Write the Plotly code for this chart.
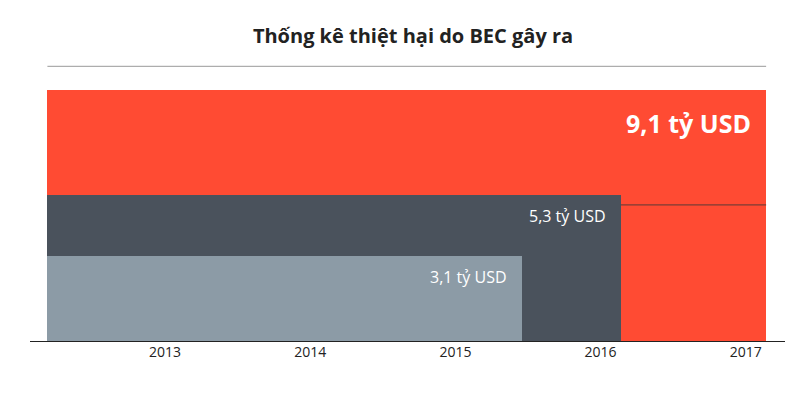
import plotly.graph_objects as go

years = [2013, 2014, 2015, 2016, 2017]
values = [3.1, 5.3, 9.1]
labels = ["3,1 tỷ USD", "5,3 tỷ USD", "<b>9,1 tỷ USD</b>"]
period_start = 2012.19
period_end = [2015.46, 2016.14, 2017.14]
colors = ["#8C9BA6", "#4A525C", "#FF4B33"]

fig = go.Figure()
for i in [2, 1, 0]:
    w = period_end[i] - period_start
    fig.add_trace(go.Bar(x=[period_start + w / 2], y=[values[i]], width=[w],
                         marker=dict(color=colors[i], line_width=0),
                         hoverinfo="skip", showlegend=False))
fs = [16, 16, 25]
offs = [0.75, 0.75, 1.2]
for i in range(3):
    fig.add_annotation(x=period_end[i] - 0.09, y=values[i] - offs[i], text=labels[i],
                       showarrow=False, xanchor="right",
                       font=dict(family="Open Sans", size=fs[i], color="white"))
fig.update_layout(barmode="overlay", bargap=0,
                  width=810, height=404, margin=dict(l=22, r=33, t=82, b=70),
                  plot_bgcolor="white", paper_bgcolor="white",
                  title=dict(text="<b>Thống kê thiệt hại do BEC gây ra</b>", x=0.5, y=0.93,
                             xanchor="center", yanchor="middle",
                             font=dict(family="Open Sans", size=20, color="#222")),
                  xaxis=dict(range=[2012.07, 2017.27], tickvals=years, showgrid=False,
                             zeroline=False, showline=False, ticks="",
                             tickfont=dict(family="Open Sans", size=14, color="#222")),
                  yaxis=dict(range=[0, 9.1], visible=False))
fig.add_shape(type="line", xref="paper", yref="y", x0=0, x1=1, y0=0, y1=0,
              line=dict(color="#222", width=2))
fig.add_shape(type="line", xref="x", yref="paper", x0=period_start, x1=period_end[2],
              y0=1.094, y1=1.094, line=dict(color="#999", width=1))
fig.add_shape(type="line", xref="x", yref="y", x0=period_end[1], x1=period_end[2],
              y0=values[1] - 0.35, y1=values[1] - 0.35, line=dict(color="#5a3a36", width=1))
fig.write_html("out.html")
